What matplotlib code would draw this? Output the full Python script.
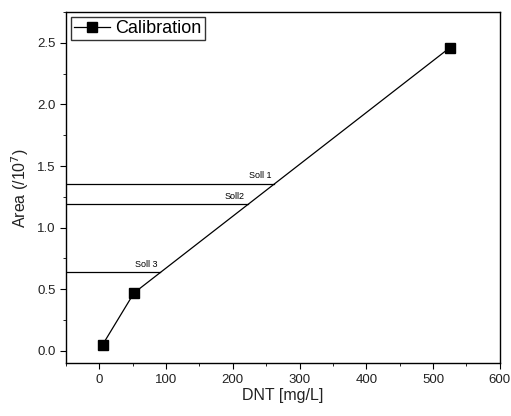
import matplotlib
matplotlib.use("Agg")
import matplotlib.pyplot as plt
from matplotlib.ticker import MultipleLocator
import numpy as np

plt.rcParams['font.family'] = ['Liberation Sans', 'DejaVu Sans']

# calibration points
dnt = [5, 52, 525]
area = [0.05, 0.47, 2.46]

# sample areas
soll_names = ["Soll 1", "Soll2", "Soll 3"]
soll_area = [1.355, 1.19, 0.637]

fig = plt.figure(figsize=(5.11, 4.16), dpi=100)
ax = fig.add_axes([0.129, 0.127, 0.849, 0.844])

ax.plot(dnt, area, color='black', lw=0.9, marker='s', ms=7,
        markerfacecolor='black', label='Calibration')

xmin = -50
for name, a in zip(soll_names, soll_area):
    xe = np.interp(a, area, dnt)
    ax.plot([xmin, xe], [a, a], color='black', lw=0.9)
    ax.text(xe - 5, a + 0.03, name, fontsize=6.5, ha='right', va='bottom')

ax.set_xlim(xmin, 600)
ax.set_ylim(-0.1, 2.75)
ax.xaxis.set_major_locator(MultipleLocator(100))
ax.xaxis.set_minor_locator(MultipleLocator(50))
ax.yaxis.set_major_locator(MultipleLocator(0.5))
ax.yaxis.set_minor_locator(MultipleLocator(0.25))
ax.tick_params(which='both', direction='out', top=False, right=False,
               labelsize=9.5, labelcolor='#222222')
ax.tick_params(which='major', length=4)
ax.tick_params(which='minor', length=2.5)
for s in ax.spines.values():
    s.set_linewidth(1.0)

ax.set_xlabel("DNT [mg/L]", fontsize=11.5, labelpad=2, color='#222222')
ax.set_ylabel("Area (/10$^7$)", fontsize=11.5, labelpad=4, color='#222222')

leg = ax.legend(loc='upper left', fontsize=13, frameon=True, fancybox=False,
                handlelength=2.0, borderpad=0.15, handletextpad=0.3,
                borderaxespad=0.3)
leg.get_frame().set_edgecolor('black')
leg.get_frame().set_linewidth(1.0)

fig.savefig("out.png", dpi=100)
